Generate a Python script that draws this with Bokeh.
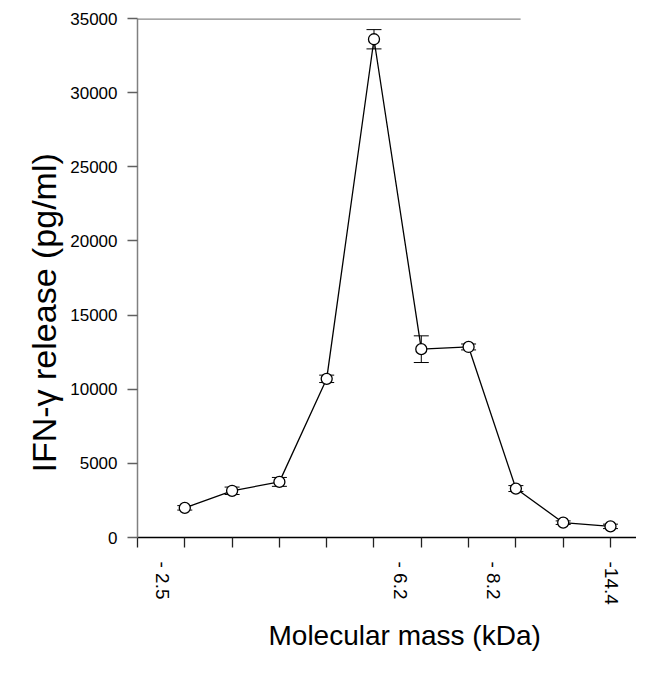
import math
from bokeh.plotting import figure
from bokeh.models import FixedTicker, LinearAxis, Range1d, ColumnDataSource, Title
from bokeh.embed import file_html
from bokeh.resources import INLINE

# ---- data ----
fraction = [1, 2, 3, 4, 5, 6, 7, 8, 9, 10]
ifn_gamma = [2000, 3150, 3750, 10700, 33600, 12700, 12850, 3300, 1000, 750]
err = [150, 250, 300, 250, 650, 900, 200, 200, 120, 150]
fraction_ticks = [0, 1, 2, 3, 4, 5, 6, 7, 8, 9, 10]
marker_pos = [0.53, 5.56, 7.53, 10.02]
marker_labels = ["- 2.5", "- 6.2", "- 8.2", "-14.4"]
y_ticks = [0, 5000, 10000, 15000, 20000, 25000, 30000, 35000]
TOP_RULE_END = 8.1

FONT = "Liberation Sans"

upper = [v + e for v, e in zip(ifn_gamma, err)]
lower = [v - e for v, e in zip(ifn_gamma, err)]
src = ColumnDataSource(dict(x=fraction, y=ifn_gamma, up=upper, lo=lower))

p = figure(width=636, height=661, output_backend="svg", toolbar_location=None,
           x_range=Range1d(0, 10.55), y_range=Range1d(0, 35000),
           min_border_left=137, min_border_right=0, min_border_top=18,
           min_border_bottom=123)
p.outline_line_color = None
p.grid.visible = False
p.background_fill_color = "white"

# top rule
p.segment(x0=[0], y0=[35000], x1=[TOP_RULE_END], y1=[35000],
          line_color="#8a8a8a", line_width=2.5)

# error bars
p.segment(x0="x", y0="lo", x1="x", y1="up", source=src, line_color="black", line_width=1)
p.scatter(x="x", y="up", source=src, marker="dash", size=15, line_color="black", line_width=1)
p.scatter(x="x", y="lo", source=src, marker="dash", size=15, line_color="black", line_width=1)

# line + circles
p.line(x="x", y="y", source=src, line_color="black", line_width=1.3)
p.scatter(x="x", y="y", source=src, marker="circle", size=11,
          fill_color="white", line_color="black", line_width=1.3)

# y axis
ya = p.yaxis[0]
ya.ticker = FixedTicker(ticks=y_ticks)
ya.minor_tick_line_color = None
ya.major_tick_in = 0
ya.major_tick_out = 10
ya.axis_line_color = "#808080"
ya.axis_line_width = 1.5
ya.major_tick_line_color = "#606060"
ya.major_tick_line_width = 1.3
ya.major_label_text_font = FONT
ya.major_label_text_font_size = "17px"
ya.major_label_text_color = "black"
ya.major_label_standoff = 10

# x axis (ticks only)
xa = p.xaxis[0]
xa.ticker = FixedTicker(ticks=fraction_ticks)
xa.minor_tick_line_color = None
xa.major_tick_in = 0
xa.major_tick_out = 10
xa.axis_line_color = "black"
xa.axis_line_width = 1.5
xa.major_tick_line_color = "#222222"
xa.major_tick_line_width = 1.3
xa.major_label_overrides = {t: "" for t in fraction_ticks}
xa.major_label_text_font_size = "1px"
xa.major_label_standoff = 0

# second x axis with molecular mass markers
xa2 = LinearAxis(ticker=FixedTicker(ticks=marker_pos),
                 major_label_overrides={pos: lab for pos, lab in zip(marker_pos, marker_labels)})
xa2.axis_line_color = None
xa2.major_tick_line_color = None
xa2.minor_tick_line_color = None
xa2.major_tick_out = 0
xa2.major_tick_in = 0
xa2.major_label_orientation = -math.pi / 2
xa2.major_label_text_font = FONT
xa2.major_label_text_font_size = "19px"
xa2.major_label_text_color = "black"
xa2.major_label_standoff = 14
p.add_layout(xa2, "below")

# axis titles
xt = Title(text="Molecular mass (kDa)", align="left", offset=131, standoff=21,
           text_font=FONT, text_font_size="28px", text_font_style="normal",
           text_color="black")
p.add_layout(xt, "below")
yt = Title(text="IFN-\u03b3 release (pg/ml)", align="left", offset=65, standoff=10,
           text_font=FONT, text_font_size="34px", text_font_style="normal",
           text_color="black")
p.add_layout(yt, "left")

open("out.html", "w").write(file_html(p, INLINE))
